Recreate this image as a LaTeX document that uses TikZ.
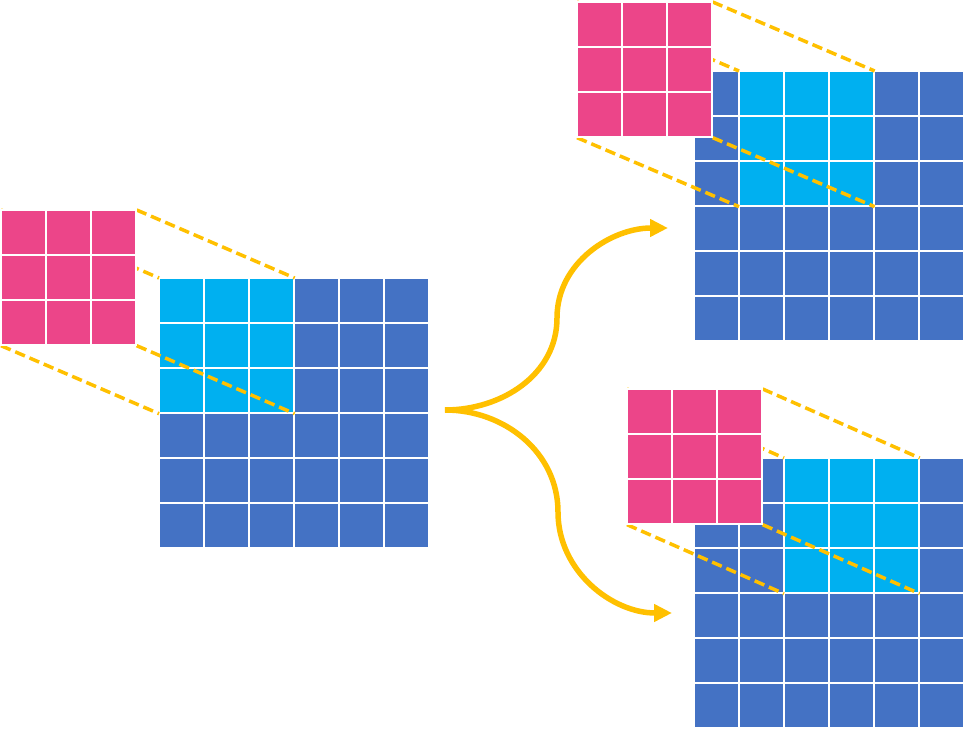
\documentclass[tikz,border=0pt]{standalone}
\usetikzlibrary{arrows.meta}
\definecolor{gridblue}{HTML}{4472C4}
\definecolor{wincyan}{HTML}{00B0F0}
\definecolor{kerpink}{HTML}{EC4589}
\definecolor{lineyellow}{HTML}{FFC000}
\begin{document}
\begin{tikzpicture}[
    x=0.02cm, y=-0.02cm,
    cell/.style={draw=white, line width=0.04cm},
    box/.style={inner sep=0pt, minimum size=2.7cm, anchor=north west},
    proj/.style={draw=lineyellow, line width=0.07cm, dash pattern=on 0.21cm off 0.1cm},
    flow/.style={draw=lineyellow, line width=0.11cm, -{Triangle[length=0.36cm,width=0.34cm]}}
]
\useasboundingbox (0,0) rectangle (965,729);
\foreach \gx/\gy/\wc/\kx/\ky/\n in {159/278/0/1/210/a, 694/71/1/577/2/b, 694/458/2/627/389/c}{
  \foreach \i in {0,...,5}
    \foreach \j in {0,...,5}
      \filldraw[fill=gridblue, cell] (\gx+45*\i,\gy+45*\j) rectangle +(45,45);
  \foreach \i in {0,...,2}
    \foreach \j in {0,...,2}
      \filldraw[fill=wincyan, cell] (\gx+45*\wc+45*\i,\gy+45*\j) rectangle +(45,45);
  \node[box] (w\n) at (\gx+45*\wc,\gy) {};
  \node[box] (k\n) at (\kx,\ky) {};
  \draw[proj] (k\n.north west) -- (w\n.north west);
  \draw[proj] (k\n.north east) -- (w\n.north east);
  \draw[proj] (k\n.south west) -- (w\n.south west);
  \draw[proj] (k\n.south east) -- (w\n.south east);
  \foreach \i in {0,...,2}
    \foreach \j in {0,...,2}
      \filldraw[fill=kerpink, cell] (\kx+45*\i,\ky+45*\j) rectangle +(45,45);
}
\coordinate (src) at (445,410);
\coordinate (bendup) at (557,318);
\coordinate (benddown) at (558,512);
\coordinate (up) at (668,228);
\coordinate (down) at (672,613);
\draw[flow] (src) to[out=0,in=-90] (bendup) to[out=90,in=180] (up);
\draw[flow] (src) to[out=0,in=90] (benddown) to[out=-90,in=180] (down);
\end{tikzpicture}
\end{document}
